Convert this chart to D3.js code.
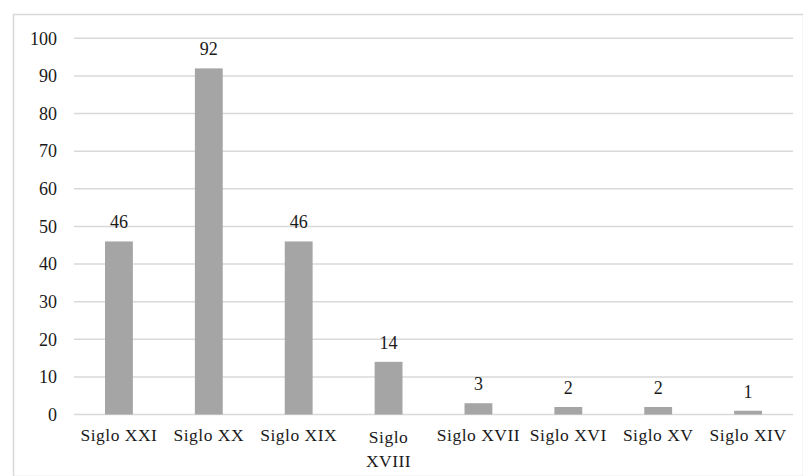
<!DOCTYPE html>
<html>
<head>
<meta charset="utf-8">
<script src="https://cdn.jsdelivr.net/npm/d3@7/dist/d3.min.js"></script>
<style>
  html, body { margin: 0; padding: 0; background: #fff; }
  svg { display: block; }
  text { font-family: "Liberation Serif", "Times New Roman", serif; fill: #1a1a1a; }
</style>
</head>
<body>
<svg id="chart" width="803" height="476"></svg>
<script>
// Obras por siglo
const categories = ["Siglo XXI", "Siglo XX", "Siglo XIX", "Siglo XVIII", "Siglo XVII", "Siglo XVI", "Siglo XV", "Siglo XIV"];
const values = [46, 92, 46, 14, 3, 2, 2, 1];
const yTicks = [0, 10, 20, 30, 40, 50, 60, 70, 80, 90, 100];

const svg = d3.select("#chart");
const W = 803, H = 476;
const serif = "'Liberation Serif', 'Times New Roman', serif";

// outer frame
svg.append("rect")
  .attr("x", 13.5).attr("y", 14.5)
  .attr("width", W - 13).attr("height", H - 14)
  .attr("fill", "none").attr("stroke", "#d9d9d9").attr("stroke-width", 1.5);

const plot = { left: 74, right: 793, top: 38.3, bottom: 414.5 };

const x = d3.scaleBand()
  .domain(categories)
  .range([plot.left, plot.right])
  .paddingInner(0.69)
  .paddingOuter(0.345);

const y = d3.scaleLinear()
  .domain([0, 100])
  .range([plot.bottom, plot.top]);

// gridlines
svg.append("g")
  .selectAll("line")
  .data(yTicks)
  .join("line")
  .attr("x1", plot.left).attr("x2", plot.right)
  .attr("y1", d => y(d)).attr("y2", d => y(d))
  .attr("stroke", "#d9d9d9").attr("stroke-width", 1.5);

// y axis labels
const yAxis = d3.axisLeft(y).tickValues(yTicks).tickSize(0).tickPadding(17);
const gy = svg.append("g").attr("transform", `translate(${plot.left},0)`).call(yAxis);
gy.attr("font-family", serif).attr("font-size", 18);
gy.select(".domain").remove();
gy.selectAll("text")
  .style("font-family", serif)
  .style("font-size", "18px")
  .attr("fill", "#1a1a1a");

// bars
svg.append("g")
  .selectAll("rect")
  .data(values)
  .join("rect")
  .attr("x", (d, i) => x(categories[i]))
  .attr("width", x.bandwidth())
  .attr("y", d => y(d))
  .attr("height", d => y(0) - y(d))
  .attr("fill", "#a5a5a5");

// value labels
svg.append("g")
  .selectAll("text")
  .data(values)
  .join("text")
  .attr("x", (d, i) => x(categories[i]) + x.bandwidth() / 2)
  .attr("y", d => y(d) - 13)
  .attr("text-anchor", "middle")
  .style("font-family", serif)
  .style("font-size", "18px")
  .text(d => d);

// category labels (long names wrap onto two lines)
const xl = svg.append("g");
categories.forEach(c => {
  const cx = x(c) + x.bandwidth() / 2;
  const lines = c.length > 10 ? c.split(" ") : [c];
  const t = xl.append("text")
    .attr("x", cx)
    .attr("y", lines.length > 1 ? 443 : 441)
    .attr("text-anchor", "middle")
    .style("font-family", serif)
    .style("font-size", "17.5px")
    .style("letter-spacing", "0.5px");
  lines.forEach((ln, i) => {
    t.append("tspan").attr("x", cx).attr("dy", i === 0 ? 0 : 23.5).text(ln);
  });
});
</script>
</body>
</html>
